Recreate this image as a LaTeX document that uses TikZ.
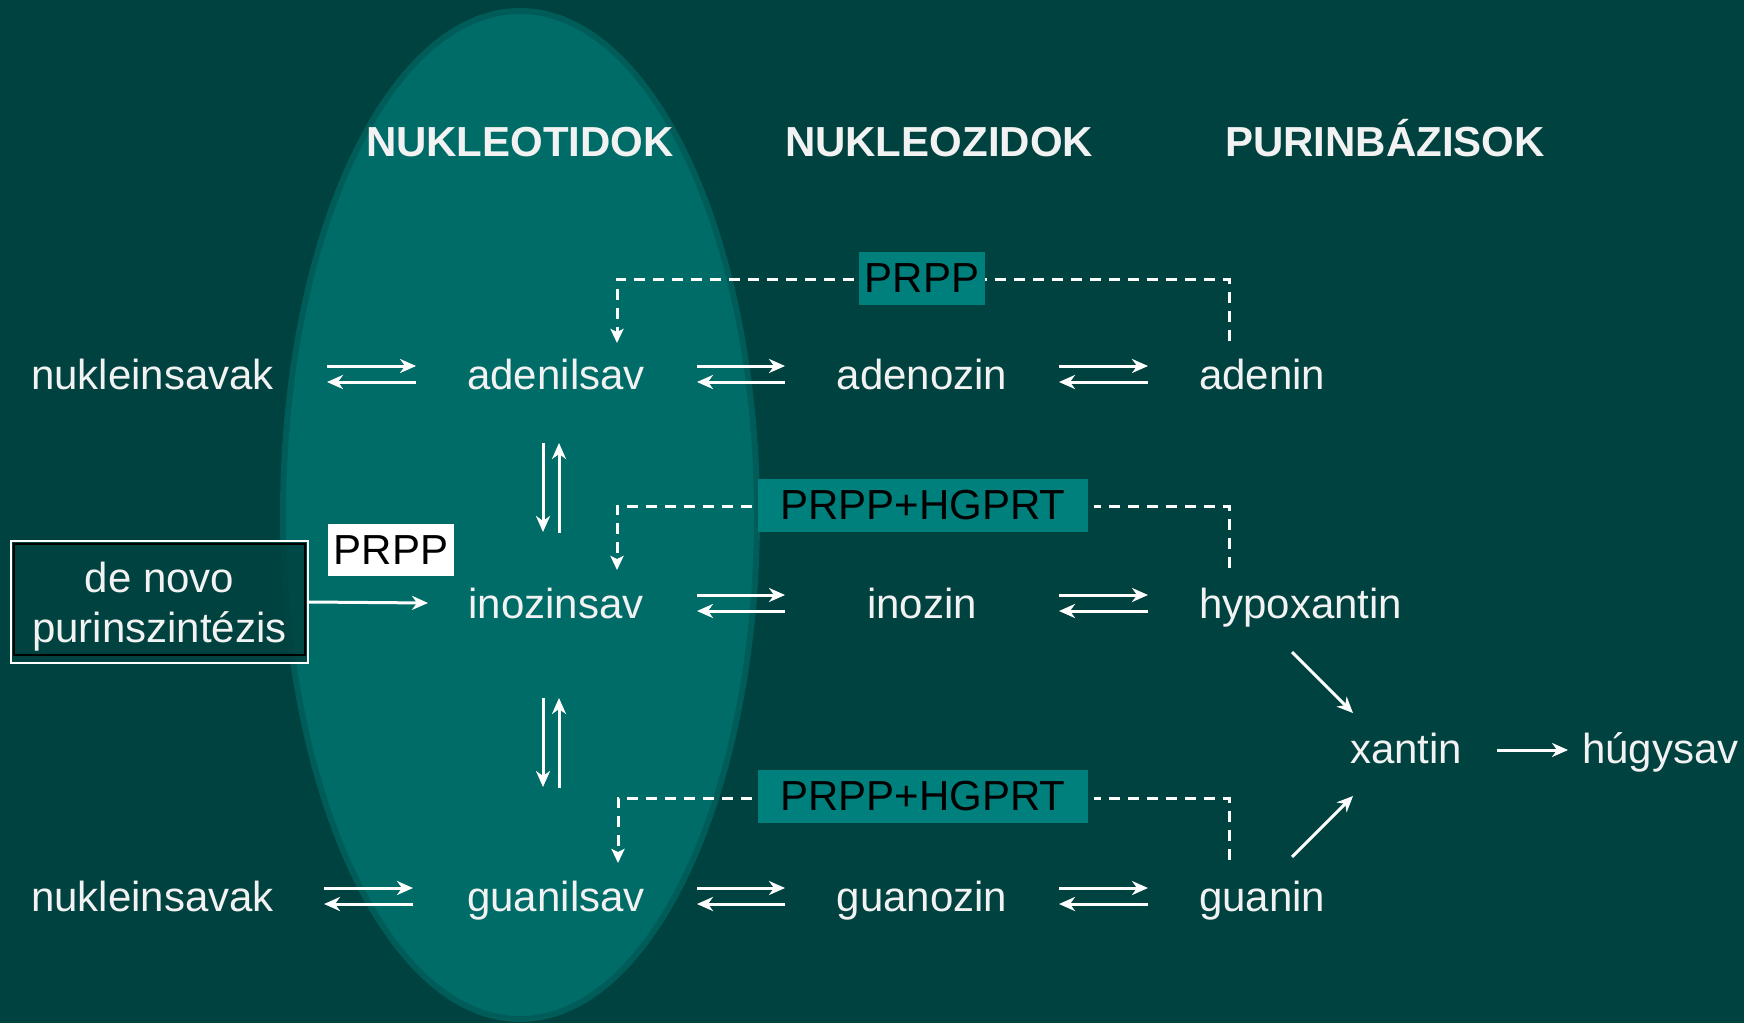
\documentclass[tikz,border=0pt]{standalone}
\usepackage{fontspec}
\setmainfont{Liberation Sans}
\usetikzlibrary{arrows.meta}
\definecolor{bg}{HTML}{00423F}
\definecolor{ell}{HTML}{006C68}
\definecolor{ellb}{HTML}{005C59}
\definecolor{boxc}{HTML}{00807C}
\definecolor{txt}{HTML}{F2F2F2}
\newcommand\eqpair[3]{%
  \draw[arr] (#1,#3-23) -- (#2,#3-23);
  \draw[arr] (#2,#3-7) -- (#1,#3-7);}
\begin{document}
\begin{tikzpicture}[x=1pt,y=-1pt,
  lbl/.style={text=txt,font=\fontsize{42}{50}\selectfont,inner sep=0pt},
  hdr/.style={text=txt,font=\fontsize{42}{50}\selectfont\bfseries,inner sep=0pt},
  arr/.style={draw=white,line width=3pt,-{Stealth[length=16pt,width=14pt,inset=5pt]}},
  dashln/.style={draw=white,line width=3pt,dash pattern=on 11pt off 8pt},
  dasharr/.style={dashln,-{Stealth[length=14pt,width=13pt,inset=3pt]}},
  enz/.style={fill=boxc,text=black,font=\fontsize{42}{50}\selectfont,inner sep=0pt,minimum height=53pt},
]
\useasboundingbox (0,0) rectangle (1744,1022);
\fill[bg] (-10,-10) rectangle (1754,1032);
\begin{scope}
  \clip (-10,-10) rectangle (1754,1032);
  \filldraw[fill=ell,draw=ellb,line width=6pt] (520,515) ellipse [x radius=237pt, y radius=504pt];
\end{scope}

% headers
\node[hdr,anchor=base] (hn1) at (520,157) {NUKLEOTIDOK};
\node[hdr,anchor=base] (hn2) at (939,157) {NUKLEOZIDOK};
\node[hdr,anchor=base] (hn3) at (1385,157) {PURINBÁZISOK};

% row 1
\node[lbl,anchor=base west] (nuk1) at (31,389) {nukleinsavak};
\node[lbl,anchor=base] (adsav) at (556,389) {adenilsav};
\node[lbl,anchor=base] (adoz) at (922,389) {adenozin};
\node[lbl,anchor=base west] (adin) at (1199,389) {adenin};
% row 2
\node[lbl,anchor=base] (inosav) at (556,618) {inozinsav};
\node[lbl,anchor=base] (inoz) at (922,618) {inozin};
\node[lbl,anchor=base west] (hypo) at (1199,618) {hypoxantin};
% row 3
\node[lbl,anchor=base west] (nuk2) at (31,911) {nukleinsavak};
\node[lbl,anchor=base] (gusav) at (556,911) {guanilsav};
\node[lbl,anchor=base] (guoz) at (922,911) {guanozin};
\node[lbl,anchor=base west] (guin) at (1199,911) {guanin};
% xantin
\node[lbl,anchor=base west] (xan) at (1350,763) {xantin};
\node[lbl,anchor=base west] (hug) at (1582,763) {húgysav};

% equilibrium arrows
\eqpair{327}{416}{389}
\eqpair{697}{785}{389}
\eqpair{1059}{1148}{389}
\eqpair{697}{785}{618}
\eqpair{1059}{1148}{618}
\eqpair{324}{413}{911}
\eqpair{697}{785}{911}
\eqpair{1059}{1148}{911}

% vertical pairs
\draw[arr] (543,443) -- (543,532);
\draw[arr] (559,533) -- (559,443);
\draw[arr] (543,698) -- (543,787);
\draw[arr] (559,788) -- (559,698);

% dashed salvage paths
\draw[dasharr] (1229,341) -- (1229,279) -- (617,279) -- (617,343);
\draw[dashln] (1229,568) -- (1229,506) -- (1094,506);
\draw[dasharr] (752,506) -- (617,506) -- (617,570);
\draw[dashln] (1229,860) -- (1229,798) -- (1094,798);
\draw[dasharr] (752,798) -- (618,798) -- (618,863);

% enzyme boxes
\node[enz,minimum width=126pt] (e1) at (922,278.5) {PRPP};
\node[enz,minimum width=330pt] (e2) at (923,505.5) {PRPP+HGPRT};
\node[enz,minimum width=330pt] (e3) at (923,796.5) {PRPP+HGPRT};

% de novo box
\node[minimum width=297pt,minimum height=122pt,inner sep=0pt,fill=bg,fill opacity=0.85,draw=white,line width=2pt] (denovo) at (159.5,602) {};
\draw[black,line width=2pt] ([shift={(4,4)}]denovo.north west) rectangle ([shift={(-4,-9)}]denovo.south east);
\node[lbl,anchor=base] (dn1) at (159.5,592) {de novo};
\node[lbl,anchor=base] (dn2) at (159.5,642) {purinszintézis};
\node[fill=white,text=black,font=\fontsize{42}{50}\selectfont,inner sep=0pt,minimum width=126pt,minimum height=52pt] (p0) at (391,550) {PRPP};
\draw[arr] (denovo.east) -- (428,603);

% to xantin and uric acid
\draw[arr] (1292,652) -- (1353,713);
\draw[arr] (1292,857) -- (1353,796);
\draw[arr] (1497,750) -- (1568,750);
\end{tikzpicture}
\end{document}
